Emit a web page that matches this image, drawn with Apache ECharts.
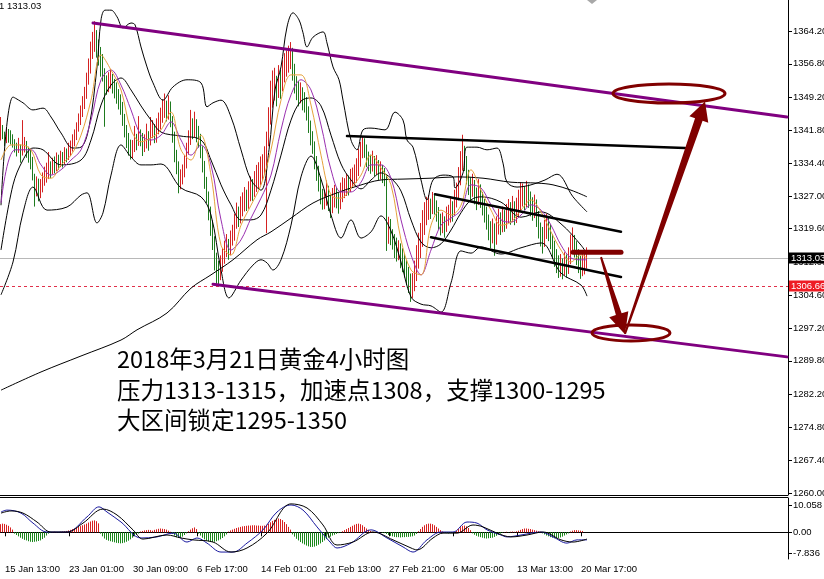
<!DOCTYPE html>
<html><head><meta charset="utf-8">
<script src="https://cdn.jsdelivr.net/npm/echarts@6/dist/echarts.min.js"></script>
<style>html,body{margin:0;padding:0;background:#fff;overflow:hidden}#c{width:824px;height:579px}</style>
</head><body><div id="c"></div>
<script>
// ---- DATA ----
const barCount = 394; // 294 bars + empty right shift
const xTickIndex = [2,34,66,98,130,162,194,226,258,290];
const xTickLabels = ['15 Jan 13:00','23 Jan 01:00','30 Jan 09:00','6 Feb 17:00','14 Feb 01:00','21 Feb 13:00','27 Feb 21:00','6 Mar 05:00','13 Mar 13:00','20 Mar 17:00'];
const yTickValues = [1260.00,1267.40,1274.80,1282.20,1289.80,1297.20,1304.60,1312.00,1319.60,1327.00,1334.40,1341.80,1349.20,1356.80,1364.20];
const macdTickValues = [10.058, 0, -7.836];
const lastPrice = 1313.03;
const levelPrice = 1306.66;

// [open, close, low, high]
const candles = [
[1340.8,1341.9,1339.5,1344.8],[1341.9,1340.3,1339.8,1343.0],[1340.3,1339.6,1338.2,1341.5],[1339.6,1341.0,1338.9,1342.4],[1341.0,1340.3,1339.0,1342.1],
[1340.3,1340.1,1338.6,1341.8],[1340.1,1338.9,1337.9,1340.9],[1338.9,1338.3,1336.8,1339.8],[1338.3,1337.6,1335.9,1339.0],[1337.6,1338.0,1336.7,1340.1],
[1338.0,1337.1,1334.5,1338.6],[1337.1,1338.3,1336.1,1344.1],[1338.3,1338.5,1336.8,1340.3],[1338.5,1337.4,1335.6,1339.4],[1337.4,1336.2,1334.5,1338.1],
[1336.2,1335.1,1333.0,1337.5],[1335.1,1331.7,1330.5,1335.8],[1331.7,1328.3,1324.6,1332.0],[1328.3,1330.2,1326.9,1331.4],[1330.2,1327.9,1325.8,1330.9],
[1327.9,1329.2,1326.5,1330.8],[1329.2,1330.6,1327.8,1332.3],[1330.6,1331.5,1329.3,1333.6],[1331.5,1332.4,1330.0,1334.5],[1332.4,1333.3,1330.8,1336.9],
[1333.3,1332.9,1331.0,1334.8],[1332.9,1334.2,1331.9,1335.6],[1334.2,1333.8,1332.1,1335.9],[1333.8,1335.1,1332.6,1336.8],[1335.1,1334.4,1332.9,1336.3],
[1334.4,1335.6,1333.5,1337.2],[1335.6,1335.1,1333.4,1336.9],[1335.1,1336.5,1334.2,1338.0],[1336.5,1336.0,1334.6,1337.7],[1336.0,1337.4,1335.1,1339.0],
[1337.4,1337.8,1336.0,1339.5],[1337.8,1339.6,1337.0,1340.9],[1339.6,1340.5,1338.2,1342.0],[1340.5,1342.3,1339.6,1343.6],[1342.3,1344.1,1341.5,1345.6],
[1344.1,1345.9,1343.0,1347.4],[1345.9,1347.7,1344.8,1349.5],[1347.7,1349.8,1346.6,1351.6],[1349.8,1353.2,1348.9,1354.8],[1353.2,1355.9,1352.1,1358.0],
[1355.9,1359.9,1354.6,1361.8],[1359.9,1361.7,1357.9,1364.0],[1361.7,1362.6,1359.5,1366.4],[1362.6,1361.0,1358.2,1364.4],[1361.0,1358.8,1356.4,1362.3],
[1358.8,1358.1,1353.9,1360.6],[1358.1,1354.3,1352.8,1359.0],[1354.3,1353.2,1342.6,1355.8],[1353.2,1351.6,1349.8,1354.2],[1351.6,1352.7,1350.4,1354.9],
[1352.7,1353.6,1351.2,1355.6],[1353.6,1352.0,1350.1,1354.5],[1352.0,1350.9,1349.0,1353.4],[1350.9,1350.2,1347.8,1352.6],[1350.2,1348.6,1346.5,1351.1],
[1348.6,1347.5,1345.3,1349.9],[1347.5,1344.6,1342.8,1348.2],[1344.6,1342.3,1340.2,1345.5],[1342.3,1340.1,1337.8,1343.0],[1340.1,1338.5,1336.1,1341.2],
[1338.5,1337.4,1335.2,1339.7],[1337.4,1337.8,1335.5,1339.6],[1337.8,1339.6,1336.9,1342.8],[1339.6,1339.2,1337.3,1341.0],[1339.2,1340.7,1338.3,1345.0],
[1340.7,1340.1,1338.2,1342.0],[1340.1,1338.5,1336.0,1341.2],[1338.5,1339.2,1336.9,1340.9],[1339.2,1340.1,1337.7,1343.3],[1340.1,1339.6,1337.2,1341.6],
[1339.6,1341.4,1338.4,1344.8],[1341.4,1342.3,1340.0,1344.1],[1342.3,1340.7,1338.9,1343.2],[1340.7,1341.9,1339.0,1344.5],[1341.9,1343.7,1340.9,1345.8],
[1343.7,1344.6,1342.0,1346.9],[1344.6,1346.4,1343.5,1348.8],[1346.4,1346.8,1344.6,1350.1],[1346.8,1345.9,1343.8,1348.5],[1345.9,1347.5,1344.2,1349.7],
[1347.5,1344.1,1342.5,1348.3],[1344.1,1340.7,1339.0,1345.0],[1340.7,1336.2,1334.6,1341.5],[1336.2,1334.0,1331.9,1337.4],[1334.0,1330.6,1327.6,1334.8],
[1330.6,1331.0,1328.5,1333.0],[1331.0,1332.4,1329.6,1334.1],[1332.4,1334.0,1331.2,1336.2],[1334.0,1337.4,1333.2,1339.0],[1337.4,1339.6,1336.3,1341.8],
[1339.6,1342.3,1338.5,1346.4],[1342.3,1341.9,1339.8,1344.5],[1341.9,1343.0,1340.2,1346.0],[1343.0,1341.4,1339.1,1344.3],[1341.4,1340.1,1337.9,1342.8],
[1340.1,1337.4,1335.5,1341.0],[1337.4,1334.0,1332.3,1338.2],[1334.0,1330.6,1328.6,1334.9],[1330.6,1327.2,1325.4,1331.3],[1327.2,1323.8,1321.5,1328.0],
[1323.8,1320.4,1318.0,1324.6],[1320.4,1317.1,1314.8,1321.5],[1317.1,1313.0,1310.2,1317.9],[1313.0,1310.8,1306.8,1314.2],[1310.8,1309.2,1307.1,1312.4],
[1309.2,1311.4,1308.0,1313.6],[1311.4,1313.0,1309.9,1315.2],[1313.0,1314.8,1311.7,1316.9],[1314.8,1315.9,1313.2,1318.4],[1315.9,1314.8,1312.6,1317.3],
[1314.8,1317.1,1313.6,1319.2],[1317.1,1318.2,1315.8,1320.5],[1318.2,1321.1,1316.9,1323.0],[1321.1,1322.7,1319.6,1325.5],[1322.7,1322.0,1320.0,1324.6],
[1322.0,1324.3,1320.8,1326.9],[1324.3,1324.9,1322.4,1327.8],[1324.9,1326.1,1323.5,1329.0],[1326.1,1325.6,1323.6,1328.4],[1325.6,1327.2,1324.1,1330.3],
[1327.2,1328.3,1325.8,1331.4],[1328.3,1327.9,1325.9,1330.8],[1327.9,1329.5,1326.8,1332.6],[1329.5,1330.6,1327.9,1334.0],[1330.6,1331.0,1328.7,1334.6],
[1331.0,1332.4,1329.5,1335.9],[1332.4,1333.3,1330.6,1336.4],[1333.3,1335.1,1331.8,1338.2],[1335.1,1339.6,1318.6,1341.5],[1339.6,1344.6,1338.2,1347.0],
[1344.6,1348.6,1343.1,1353.0],[1348.6,1350.9,1346.9,1355.3],[1350.9,1352.0,1348.5,1355.9],[1352.0,1350.4,1347.2,1354.1],[1350.4,1353.2,1349.1,1356.5],
[1353.2,1352.0,1348.9,1355.4],[1352.0,1354.9,1350.6,1357.6],[1354.9,1355.9,1352.6,1359.2],[1355.9,1357.2,1353.9,1359.8],[1357.2,1358.1,1354.8,1360.9],
[1358.1,1358.8,1355.6,1361.7],[1358.8,1355.4,1353.0,1360.4],[1355.4,1352.7,1350.1,1356.8],[1352.7,1350.9,1348.6,1354.0],[1350.9,1349.8,1347.2,1352.9],
[1349.8,1350.4,1347.9,1352.6],[1350.4,1348.6,1346.3,1351.5],[1348.6,1348.2,1345.8,1350.4],[1348.2,1346.4,1344.0,1349.3],[1346.4,1343.0,1341.2,1347.2],
[1343.0,1340.7,1338.4,1344.0],[1340.7,1338.5,1336.5,1341.6],[1338.5,1335.1,1333.0,1339.3],[1335.1,1332.9,1330.4,1336.0],[1332.9,1330.2,1328.0,1333.8],
[1330.2,1327.2,1325.1,1331.0],[1327.2,1326.1,1323.9,1328.6],[1326.1,1326.5,1324.0,1328.4],[1326.5,1327.9,1324.8,1330.5],[1327.9,1326.1,1323.6,1329.3],
[1326.1,1324.3,1322.0,1327.2],[1324.3,1326.1,1323.1,1328.8],[1326.1,1327.2,1324.4,1329.5],[1327.2,1326.1,1324.2,1328.9],[1326.1,1325.4,1323.0,1327.8],
[1325.4,1327.2,1324.0,1330.0],[1327.2,1328.3,1325.6,1331.2],[1328.3,1328.8,1326.5,1331.0],[1328.8,1329.7,1327.0,1332.0],[1329.7,1329.2,1327.1,1331.6],
[1329.2,1330.6,1327.9,1333.1],[1330.6,1331.0,1328.9,1333.4],[1331.0,1331.7,1329.3,1334.1],[1331.7,1332.9,1330.0,1335.5],[1332.9,1335.1,1331.5,1337.6],
[1335.1,1336.9,1333.6,1339.2],[1336.9,1338.5,1335.5,1340.3],[1338.5,1337.8,1335.6,1340.0],[1337.8,1335.6,1333.5,1338.6],[1335.6,1334.7,1332.6,1337.0],
[1334.7,1334.0,1332.0,1336.3],[1334.0,1335.1,1332.5,1337.2],[1335.1,1333.3,1331.4,1336.0],[1333.3,1334.0,1331.8,1336.2],[1334.0,1332.4,1330.6,1335.1],
[1332.4,1332.9,1330.7,1334.8],[1332.9,1331.7,1329.9,1334.0],[1331.7,1331.0,1329.2,1333.3],[1331.0,1318.5,1314.6,1331.8],[1318.5,1320.4,1316.2,1322.3],
[1320.4,1318.2,1315.9,1321.8],[1318.2,1317.1,1314.9,1319.5],[1317.1,1315.3,1313.0,1318.4],[1315.3,1314.4,1312.2,1317.6],[1314.4,1314.8,1312.5,1317.0],
[1314.8,1313.0,1310.7,1316.3],[1313.0,1312.1,1309.8,1315.2],[1312.1,1310.8,1308.6,1314.0],[1310.8,1309.2,1306.9,1312.5],[1309.2,1307.6,1305.1,1311.0],
[1307.6,1305.8,1303.1,1309.5],[1305.8,1306.9,1304.0,1309.6],[1306.9,1309.2,1305.5,1312.4],[1309.2,1312.1,1307.8,1315.9],[1312.1,1314.8,1310.6,1318.7],
[1314.8,1317.1,1313.0,1320.9],[1317.1,1319.8,1315.5,1323.8],[1319.8,1322.0,1318.2,1325.6],[1322.0,1323.4,1320.4,1326.8],[1323.4,1324.9,1321.6,1327.2],
[1324.9,1324.3,1321.8,1326.4],[1324.3,1326.1,1322.9,1327.9],[1326.1,1324.9,1322.8,1327.5],[1324.9,1323.4,1321.2,1326.0],[1323.4,1321.6,1319.4,1324.5],
[1321.6,1320.4,1318.1,1323.0],[1320.4,1321.1,1318.6,1323.3],[1321.1,1319.8,1317.6,1322.4],[1319.8,1322.0,1318.9,1324.6],[1322.0,1322.7,1320.3,1325.0],
[1322.7,1323.8,1321.0,1326.5],[1323.8,1323.4,1321.2,1325.8],[1323.4,1326.1,1322.6,1328.4],[1326.1,1327.2,1324.4,1330.0],[1327.2,1330.6,1326.0,1333.5],
[1330.6,1334.0,1329.4,1337.1],[1334.0,1336.2,1332.7,1340.8],[1336.2,1335.1,1332.6,1338.3],[1335.1,1331.7,1329.6,1336.0],[1331.7,1329.5,1327.2,1332.9],
[1329.5,1328.3,1325.9,1331.2],[1328.3,1329.5,1326.8,1332.0],[1329.5,1327.2,1325.1,1330.6],[1327.2,1326.1,1323.8,1328.9],[1326.1,1327.9,1325.0,1330.8],
[1327.9,1326.5,1324.3,1329.6],[1326.5,1324.9,1322.6,1327.9],[1324.9,1323.4,1321.0,1326.3],[1323.4,1321.6,1319.4,1324.6],[1321.6,1319.8,1317.0,1322.8],
[1319.8,1318.2,1315.2,1321.3],[1318.2,1319.3,1316.3,1321.9],[1319.3,1317.5,1313.5,1320.8],[1317.5,1319.8,1316.0,1322.4],[1319.8,1321.6,1318.3,1324.1],
[1321.6,1320.4,1318.2,1323.3],[1320.4,1322.0,1318.8,1324.6],[1322.0,1321.1,1318.9,1323.8],[1321.1,1322.7,1319.6,1325.2],[1322.7,1323.8,1320.9,1326.3],
[1323.8,1322.7,1320.5,1325.6],[1322.7,1324.3,1321.1,1327.0],[1324.3,1322.7,1320.4,1325.8],[1322.7,1323.8,1320.9,1326.6],[1323.8,1325.6,1322.1,1328.4],
[1325.6,1326.5,1323.5,1330.1],[1326.5,1327.2,1324.6,1329.8],[1327.2,1326.1,1323.8,1329.2],[1326.1,1327.9,1324.5,1330.4],[1327.9,1326.5,1324.3,1329.6],
[1326.5,1324.9,1322.4,1328.0],[1324.9,1323.8,1321.4,1326.7],[1323.8,1324.9,1322.0,1327.3],[1324.9,1322.7,1320.0,1326.2],[1322.7,1319.8,1317.4,1323.6],
[1319.8,1318.2,1315.6,1321.0],[1318.2,1317.1,1314.0,1320.0],[1317.1,1318.9,1315.5,1321.6],[1318.9,1320.4,1317.3,1323.0],[1320.4,1319.3,1316.8,1322.2],
[1319.3,1317.5,1315.0,1320.6],[1317.5,1315.3,1312.8,1318.4],[1315.3,1313.7,1311.0,1316.9],[1313.7,1312.1,1309.6,1315.0],[1312.1,1310.8,1308.5,1313.6],
[1310.8,1311.4,1308.8,1313.9],[1311.4,1310.3,1308.2,1312.9],[1310.3,1312.1,1309.1,1314.3],[1312.1,1310.8,1308.6,1313.8],[1310.8,1312.6,1309.4,1315.4],
[1312.6,1315.9,1311.6,1318.3],[1315.9,1317.1,1314.4,1319.9],[1317.1,1315.3,1313.1,1318.2],[1315.3,1313.7,1311.4,1316.8],[1313.7,1312.1,1309.6,1315.0],
[1312.1,1310.8,1308.3,1313.5],[1310.8,1311.4,1308.9,1314.2],[1311.4,1312.1,1309.3,1314.6],[1312.1,1313.03,1310.6,1315.4]
];

// moving averages & bands: [barIndex, price]
const maFast = [[0,1335.1],[5,1338.5],[10,1338.5],[15,1337.4],[20,1331.7],[25,1331.0],[30,1334.0],[35,1336.2],[40,1340.7],[45,1348.6],[50,1358.8],[55,1355.4],[60,1350.9],[65,1341.9],[70,1339.2],[75,1340.1],[80,1341.9],[85,1345.9],[90,1337.4],[95,1335.1],[100,1340.7],[105,1331.7],[110,1315.9],[115,1313.7],[120,1320.4],[125,1324.9],[130,1329.5],[135,1337.4],[140,1348.6],[145,1354.3],[150,1354.3],[155,1347.5],[160,1336.2],[165,1327.2],[170,1326.5],[175,1328.8],[180,1331.7],[185,1336.2],[190,1333.3],[195,1329.5],[200,1317.1],[205,1310.3],[210,1309.2],[215,1320.4],[220,1323.8],[225,1322.7],[230,1324.9],[235,1332.9],[240,1328.3],[245,1323.8],[250,1320.4],[255,1321.1],[260,1323.8],[265,1326.1],[270,1323.4],[275,1318.9],[280,1314.8],[285,1312.1],[290,1313.7],[293,1313.0]];
const maSlow = [[0,1325.4],[7,1337.4],[15,1337.4],[20,1334.0],[25,1331.7],[30,1332.9],[35,1335.1],[40,1337.4],[45,1344.1],[50,1353.2],[55,1355.4],[60,1352.0],[65,1346.4],[70,1340.7],[75,1339.6],[80,1340.7],[85,1343.7],[90,1339.6],[95,1336.2],[100,1338.5],[105,1334.0],[110,1321.6],[115,1314.8],[120,1317.1],[125,1322.0],[130,1326.5],[135,1331.7],[140,1341.9],[145,1349.8],[150,1353.2],[155,1350.9],[160,1343.0],[165,1332.9],[170,1327.9],[175,1327.9],[180,1330.1],[185,1334.0],[190,1334.0],[195,1331.0],[200,1321.6],[205,1313.7],[210,1309.2],[215,1314.8],[220,1320.4],[225,1322.0],[230,1323.8],[235,1329.5],[240,1328.8],[245,1325.0],[250,1321.6],[255,1321.1],[260,1322.7],[265,1325.0],[270,1323.8],[275,1320.4],[280,1315.9],[285,1313.0],[290,1312.6],[293,1312.6]];
const ma200 = [[0,1283.2],[20,1287.3],[40,1290.9],[60,1294.5],[68,1296.8],[83,1300.6],[95,1306.2],[105,1309.2],[116,1312.6],[128,1317.1],[135,1318.9],[145,1322.0],[156,1325.4],[168,1327.7],[178,1329.2],[190,1330.6],[201,1330.8],[215,1331.0],[228,1331.3],[241,1331.0],[255,1330.1],[268,1329.9],[276,1329.5],[285,1328.3],[293,1326.8]];
const bbUpper = [[0,1324.9],[6,1349.3],[11,1348.0],[16,1346.4],[21,1346.8],[25,1344.8],[30,1341.2],[36,1337.8],[40,1338.0],[44,1342.5],[48,1356.1],[50,1366.7],[52,1368.9],[55,1368.9],[58,1367.4],[61,1364.9],[65,1366.0],[67,1365.6],[70,1360.6],[73,1356.1],[76,1352.5],[81,1348.6],[86,1351.6],[93,1353.2],[100,1352.5],[103,1347.1],[106,1348.0],[110,1348.6],[115,1344.8],[120,1337.4],[125,1330.6],[130,1328.3],[134,1337.4],[137,1350.9],[140,1356.1],[143,1365.1],[146,1368.3],[149,1366.7],[151,1363.8],[153,1360.6],[156,1362.8],[161,1364.0],[163,1361.5],[166,1356.1],[169,1353.2],[171,1348.6],[175,1339.6],[178,1337.4],[181,1341.9],[185,1342.3],[192,1341.9],[197,1345.9],[201,1344.1],[203,1339.6],[206,1338.0],[210,1330.6],[213,1326.1],[216,1330.6],[221,1331.7],[226,1331.3],[227,1328.8],[231,1332.2],[233,1338.0],[238,1338.0],[243,1337.4],[248,1337.8],[251,1334.4],[253,1330.1],[258,1329.0],[265,1329.5],[272,1330.6],[278,1331.9],[286,1326.8],[293,1323.4]];
const bbMiddle = [[0,1314.8],[6,1329.5],[11,1335.1],[16,1337.8],[21,1337.4],[30,1334.0],[40,1335.1],[45,1339.6],[50,1347.5],[55,1352.0],[60,1353.6],[65,1350.9],[70,1347.3],[75,1344.1],[80,1341.4],[90,1340.5],[100,1339.6],[105,1335.1],[110,1329.5],[115,1325.0],[120,1321.6],[125,1321.6],[130,1322.7],[135,1328.3],[140,1336.2],[145,1344.1],[150,1348.4],[155,1349.1],[160,1347.3],[165,1340.7],[170,1334.2],[175,1330.6],[180,1328.6],[185,1330.6],[190,1332.2],[195,1331.0],[200,1328.1],[205,1321.6],[210,1316.6],[215,1315.3],[220,1316.2],[225,1319.3],[230,1323.2],[235,1326.1],[240,1326.8],[250,1325.6],[260,1322.2],[270,1323.4],[280,1320.7],[290,1315.9],[293,1313.9]];
const bbLower = [[0,1304.7],[6,1312.1],[11,1323.2],[16,1329.0],[23,1323.8],[33,1324.5],[40,1327.2],[43,1327.7],[48,1320.9],[51,1323.2],[55,1331.7],[60,1338.5],[65,1335.8],[70,1334.0],[75,1334.0],[80,1334.2],[90,1328.8],[100,1326.8],[105,1322.7],[110,1310.3],[114,1304.0],[120,1308.0],[126,1311.4],[130,1312.6],[133,1311.9],[136,1310.3],[140,1312.6],[145,1320.4],[150,1331.3],[155,1336.0],[160,1330.8],[165,1322.7],[170,1317.5],[175,1321.6],[180,1317.5],[185,1318.9],[190,1322.5],[195,1319.1],[200,1312.1],[205,1304.2],[210,1302.6],[215,1302.2],[220,1300.8],[225,1307.4],[230,1314.6],[235,1314.1],[240,1315.5],[250,1313.9],[260,1315.3],[270,1316.4],[280,1309.6],[290,1306.9],[293,1304.4]];

// MACD
const macdHist = [
3.0,3.2,3.1,2.8,2.4,1.8,1.0,
-0.5,-1.0,-1.5,-2.0,-2.4,-2.8,-3.0,-3.3,-3.5,-3.6,-3.5,-3.4,-3.2,-3.0,-2.5,-2.0,-1.2,-0.5,
-0.2,0.1,0.2,0.1,-0.1,0.2,0.3,0.4,0.5,0.7,
0.9,1.2,1.4,1.7,2.0,2.3,2.6,2.9,3.2,3.6,4.0,4.3,4.4,4.1,3.3,
-0.5,-1.5,-2.3,-2.8,-3.1,-3.3,-3.5,-3.7,-3.9,-4.0,-4.1,-4.0,-3.8,-3.5,-3.1,-2.6,-2.0,-1.5,-1.0,-0.5,
0.3,0.5,0.7,0.8,0.9,0.8,0.6,0.9,1.1,1.3,1.4,1.3,1.2,1.0,0.6,0.2,
-0.6,-1.2,-1.8,-2.1,-2.0,-1.6,-1.0,-0.4,
0.4,1.0,1.5,1.8,1.2,
-0.5,-1.2,-2.0,-2.6,-3.1,-3.4,-3.6,-3.6,-3.5,-3.3,-3.0,-2.6,-2.1,-1.5,-0.8,
0.3,0.7,1.0,1.3,1.6,1.8,2.0,2.2,2.3,2.4,2.5,2.5,2.6,2.6,2.5,2.5,2.4,2.4,2.5,2.8,3.2,3.7,4.2,4.6,5.0,5.1,4.9,4.5,3.8,3.0,2.0,1.0,
-0.8,-1.6,-2.4,-3.0,-3.6,-4.1,-4.5,-4.9,-5.2,-5.4,-5.4,-5.3,-5.0,-4.6,-4.1,-3.6,-3.0,-2.5,-2.0,-1.6,-1.2,-0.9,-0.6,-0.3,-0.1,
0.4,0.8,1.2,1.6,2.0,2.4,2.8,3.1,3.2,3.0,2.6,2.0,1.4,0.9,0.5,0.2,
0.1,-0.1,0.1,0.0,-0.2,-0.3,-0.6,
-1.0,-1.3,-1.5,-1.7,-1.8,-1.8,-1.9,-1.8,-1.8,-1.7,-1.7,-1.6,-1.5,-1.2,-0.6,
0.4,1.2,2.0,2.6,3.0,3.2,3.2,3.0,2.6,2.0,1.4,0.8,0.3,
-0.2,-0.3,-0.4,-0.3,-0.2,-0.1,
0.5,1.2,1.9,2.4,2.5,2.2,1.6,0.8,
-0.4,-0.9,-1.3,-1.6,-1.8,-2.0,-2.2,-2.3,-2.2,-2.1,-2.0,-1.7,-1.3,-0.9,-0.5,
-0.2,0.1,0.2,-0.1,0.2,0.3,0.2,0.4,
0.6,0.9,1.2,1.4,1.4,1.3,1.2,1.0,0.8,0.6,0.4,0.2,
-0.4,-0.8,-1.2,-1.5,-1.8,-2.0,-2.2,-2.2,-2.1,-1.9,-1.6,-1.2,-0.8,-0.4,
0.3,0.6,0.8,0.8,0.7,0.6,0.5,0,0
];
const macdMain = [[0,7.5],[3,8.2],[10,7.1],[16,3.4],[23,0.1],[33,0.1],[43,5.7],[49,9.4],[53,7.5],[60,3.8],[70,-2.1],[78,-1.7],[86,-0.3],[93,-3.6],[98,-2.1],[103,-4.0],[110,-7.3],[116,-7.3],[123,-4.0],[131,0.9],[138,7.5],[145,10.1],[151,8.2],[158,2.0],[165,-4.0],[168,-5.8],[175,-4.0],[185,0.9],[193,-2.1],[201,-5.4],[206,-7.3],[213,-2.8],[220,0.1],[226,0.1],[233,3.8],[238,3.4],[243,0.9],[250,-1.0],[253,-1.7],[260,-1.0],[270,0.1],[276,-1.7],[283,-4.0],[288,-2.8],[293,-2.8]];
const macdSignal = [[0,7.1],[5,7.9],[11,7.1],[18,3.8],[25,0.1],[33,0.1],[41,3.4],[51,8.6],[58,6.4],[66,0.9],[71,-2.5],[83,-1.0],[90,-2.1],[96,-2.8],[106,-3.6],[115,-7.3],[123,-5.8],[133,-0.3],[145,10.5],[153,9.0],[161,2.7],[168,-4.7],[176,-3.6],[186,0.1],[196,-2.8],[205,-5.8],[208,-6.5],[216,-2.1],[221,-0.3],[228,-0.3],[236,2.7],[241,2.0],[248,-0.3],[255,-1.7],[263,-1.0],[271,0.1],[280,-2.8],[286,-3.6],[293,-2.5]];

// hand-drawn annotations: [barIndex, price]
const channelUpper = [[46,1366.0],[393,1344.8]];
const channelLower = [[106,1307.1],[393,1290.7]];
const trendTop = [[173,1340.5],[342,1337.8]];
const trendMidUpper = [[217,1327.4],[310,1318.9]];
const trendMidLower = [[215,1317.7],[310,1308.7]];
const resistanceBar = [[286,1314.3],[310,1314.3]];
const ellipseUpperCenter = [334,1350.1];
const ellipseLowerCenter = [315,1296.1];
const arrowDown = [[300,1313.2],[312,1295.8]];
const arrowUp = [[312,1295.9],[352,1348.3]];
const noteLines = ['2018年3月21日黄金4小时图','压力1313-1315，加速点1308，支撑1300-1295','大区间锁定1295-1350'];

// ---- CHART ----
const categories = Array.from({length: barCount}, (_, i) => String(i));
const chart = echarts.init(document.getElementById('c'), null, {renderer: 'canvas'});
const axisFont = {fontFamily: 'Liberation Sans', fontSize: 9.5, color: '#000'};
const RED = '#d42222', GREEN = '#1e7a1e';
const HIST_UP = '#d82020', HIST_DN = '#1b881b';
const tickShow = (idx) => xTickIndex.indexOf(idx) >= 0;
// histogram drawn as zero-based sticks: [open=0, close=value, low, high]
const histSticks = macdHist.map(v => [0, v, Math.min(0, v), Math.max(0, v)]);

function thinLine(data, color, w, z) {
  return {type: 'line', xAxisIndex: 0, yAxisIndex: 0, data, symbol: 'none', smooth: 0.35, silent: true,
    lineStyle: {color, width: w}, z: z || 3};
}
function straight(data, color, w, z) {
  return {type: 'line', xAxisIndex: 0, yAxisIndex: 0, data, symbol: 'none', silent: true,
    lineStyle: {color, width: w, cap: 'round'}, z: z || 5};
}

chart.setOption({
  animation: false,
  backgroundColor: '#fff',
  grid: [
    {left: 0, top: 0, width: 788, height: 495, containLabel: false, outerBoundsMode: 'none'},
    {left: 0, top: 498, width: 788, height: 61, containLabel: false, outerBoundsMode: 'none'}
  ],
  xAxis: [
    {type: 'category', gridIndex: 0, data: categories, boundaryGap: true, show: false},
    {type: 'category', gridIndex: 1, data: categories, boundaryGap: true,
      axisLine: {show: true, lineStyle: {color: '#000', width: 1}},
      axisTick: {show: true, interval: tickShow, alignWithLabel: true, length: 4, lineStyle: {color: '#000'}},
      axisLabel: Object.assign({interval: tickShow, align: 'left', margin: 5,
        formatter: (v, idx) => xTickLabels[xTickIndex.indexOf(Number(v))] || ''}, axisFont),
      splitLine: {show: false}}
  ],
  yAxis: [
    {type: 'value', gridIndex: 0, position: 'right', min: 1259.55, max: 1371.19, scale: true,
      axisLine: {show: true, lineStyle: {color: '#000'}},
      axisTick: {show: true, length: 4, customValues: yTickValues, lineStyle: {color: '#000'}},
      axisLabel: Object.assign({margin: 5, customValues: yTickValues, formatter: v => v.toFixed(2)}, axisFont),
      splitLine: {show: false}},
    {type: 'value', gridIndex: 1, position: 'right', min: -9.87, max: 12.68,
      axisLine: {show: true, lineStyle: {color: '#000'}},
      axisTick: {show: true, length: 4, customValues: macdTickValues, lineStyle: {color: '#000'}},
      axisLabel: Object.assign({margin: 5, customValues: macdTickValues,
        formatter: v => (v === 0 ? '0.00' : String(v))}, axisFont),
      splitLine: {show: false}}
  ],
  series: [
    {type: 'candlestick', xAxisIndex: 0, yAxisIndex: 0, data: candles, barWidth: 0.2, silent: true, z: 2,
      itemStyle: {color: RED, color0: GREEN, borderColor: RED, borderColor0: GREEN, borderWidth: 1},
      markLine: {silent: true, symbol: 'none', animation: false, z: 1,
        data: [
          {yAxis: lastPrice, lineStyle: {color: '#b8b8b8', width: 1, type: 'solid'},
            label: {show: true, position: 'end', distance: 1, formatter: lastPrice.toFixed(2),
              backgroundColor: '#000', color: '#fff', padding: [1, 4, 0, 2], fontFamily: 'Liberation Sans', fontSize: 9.5}},
          {yAxis: levelPrice, lineStyle: {color: '#e0304a', width: 1, type: [3, 3]},
            label: {show: true, position: 'end', distance: 1, formatter: levelPrice.toFixed(2),
              backgroundColor: '#ee1c24', color: '#fff', padding: [1, 4, 0, 2], fontFamily: 'Liberation Sans', fontSize: 9.5}}
        ]}},
    thinLine(ma200, '#000', 1),
    thinLine(bbUpper, '#000', 1),
    thinLine(bbMiddle, '#000', 1),
    thinLine(bbLower, '#000', 1),
    thinLine(maSlow, '#9a2fb0', 1),
    thinLine(maFast, '#e6a23c', 1),
    straight(channelUpper, '#800080', 3),
    straight(channelLower, '#800080', 3),
    straight(trendTop, '#000', 2.5),
    straight(trendMidUpper, '#000', 2.5),
    straight(trendMidLower, '#000', 2.5),
    straight(resistanceBar, '#800000', 5, 8),
    {type: 'candlestick', xAxisIndex: 1, yAxisIndex: 1, data: histSticks, barWidth: 0.2, silent: true, z: 2,
      itemStyle: {color: HIST_UP, color0: HIST_DN, borderColor: HIST_UP, borderColor0: HIST_DN, borderWidth: 1}},
    {type: 'line', xAxisIndex: 1, yAxisIndex: 1, data: macdMain, symbol: 'none', smooth: 0.35, silent: true,
      lineStyle: {color: '#1a1aa0', width: 1}, z: 4},
    {type: 'line', xAxisIndex: 1, yAxisIndex: 1, data: macdSignal, symbol: 'none', smooth: 0.35, silent: true,
      lineStyle: {color: '#000', width: 1}, z: 4}
  ]
});

// ---- annotations placed through the chart's own scales ----
const P = (pt) => chart.convertToPixel({xAxisIndex: 0, yAxisIndex: 0}, pt);
function arrowPoly(s, t, w0, w1, headLen, headHalf) {
  const dx = t[0] - s[0], dy = t[1] - s[1], L = Math.hypot(dx, dy);
  const ux = dx / L, uy = dy / L, nx = -uy, ny = ux;
  const bx = t[0] - ux * headLen, by = t[1] - uy * headLen;
  return [[s[0] + nx * w0, s[1] + ny * w0], [bx + nx * w1, by + ny * w1], [bx + nx * headHalf, by + ny * headHalf],
    [t[0], t[1]], [bx - nx * headHalf, by - ny * headHalf], [bx - nx * w1, by - ny * w1], [s[0] - nx * w0, s[1] - ny * w0]];
}
const eu = P(ellipseUpperCenter), el = P(ellipseLowerCenter);
const dS = P(arrowDown[0]), dT = P(arrowDown[1]);
const uS = P(arrowUp[0]), uT = P(arrowUp[1]);
const DR = '#800000';
const textFont = '"Noto Sans CJK SC", "Noto Sans", sans-serif';
chart.setOption({
  graphic: [
    {type: 'line', shape: {x1: 0, y1: 495.5, x2: 788, y2: 495.5}, style: {stroke: '#000', lineWidth: 1}, silent: true},
    {type: 'line', shape: {x1: 0, y1: 497.5, x2: 788, y2: 497.5}, style: {stroke: '#000', lineWidth: 1}, silent: true},
    {type: 'polygon', shape: {points: [[587, 0], [597, 0], [592, 4]]}, style: {fill: '#a8a8a8'}, silent: true},
    {type: 'text', left: -1, top: 1, style: {text: '1 1313.03', font: '9.5px "Liberation Sans"', fill: '#000'}, silent: true},
    {type: 'ellipse', shape: {cx: eu[0], cy: eu[1], rx: 56, ry: 9.5}, style: {fill: 'none', stroke: DR, lineWidth: 3}, z: 20, silent: true},
    {type: 'ellipse', shape: {cx: el[0], cy: el[1], rx: 39, ry: 8}, style: {fill: 'none', stroke: DR, lineWidth: 3}, z: 20, silent: true},
    {type: 'polygon', shape: {points: arrowPoly(dS, dT, 1, 3, 21, 10)}, style: {fill: DR}, z: 21, silent: true},
    {type: 'polygon', shape: {points: arrowPoly(uS, uT, 1, 4, 19, 10)}, style: {fill: DR}, z: 21, silent: true},
    {type: 'text', x: 117, y: 359, style: {text: noteLines[0], font: '23.5px ' + textFont, fill: '#000', textVerticalAlign: 'middle', verticalAlign: 'middle'}, z: 22, silent: true},
    {type: 'text', x: 117, y: 390, style: {text: noteLines[1], font: '23.5px ' + textFont, fill: '#000', textVerticalAlign: 'middle', verticalAlign: 'middle'}, z: 22, silent: true},
    {type: 'text', x: 117, y: 420, style: {text: noteLines[2], font: '23.5px ' + textFont, fill: '#000', textVerticalAlign: 'middle', verticalAlign: 'middle'}, z: 22, silent: true}
  ]
});
</script>
</body></html>
